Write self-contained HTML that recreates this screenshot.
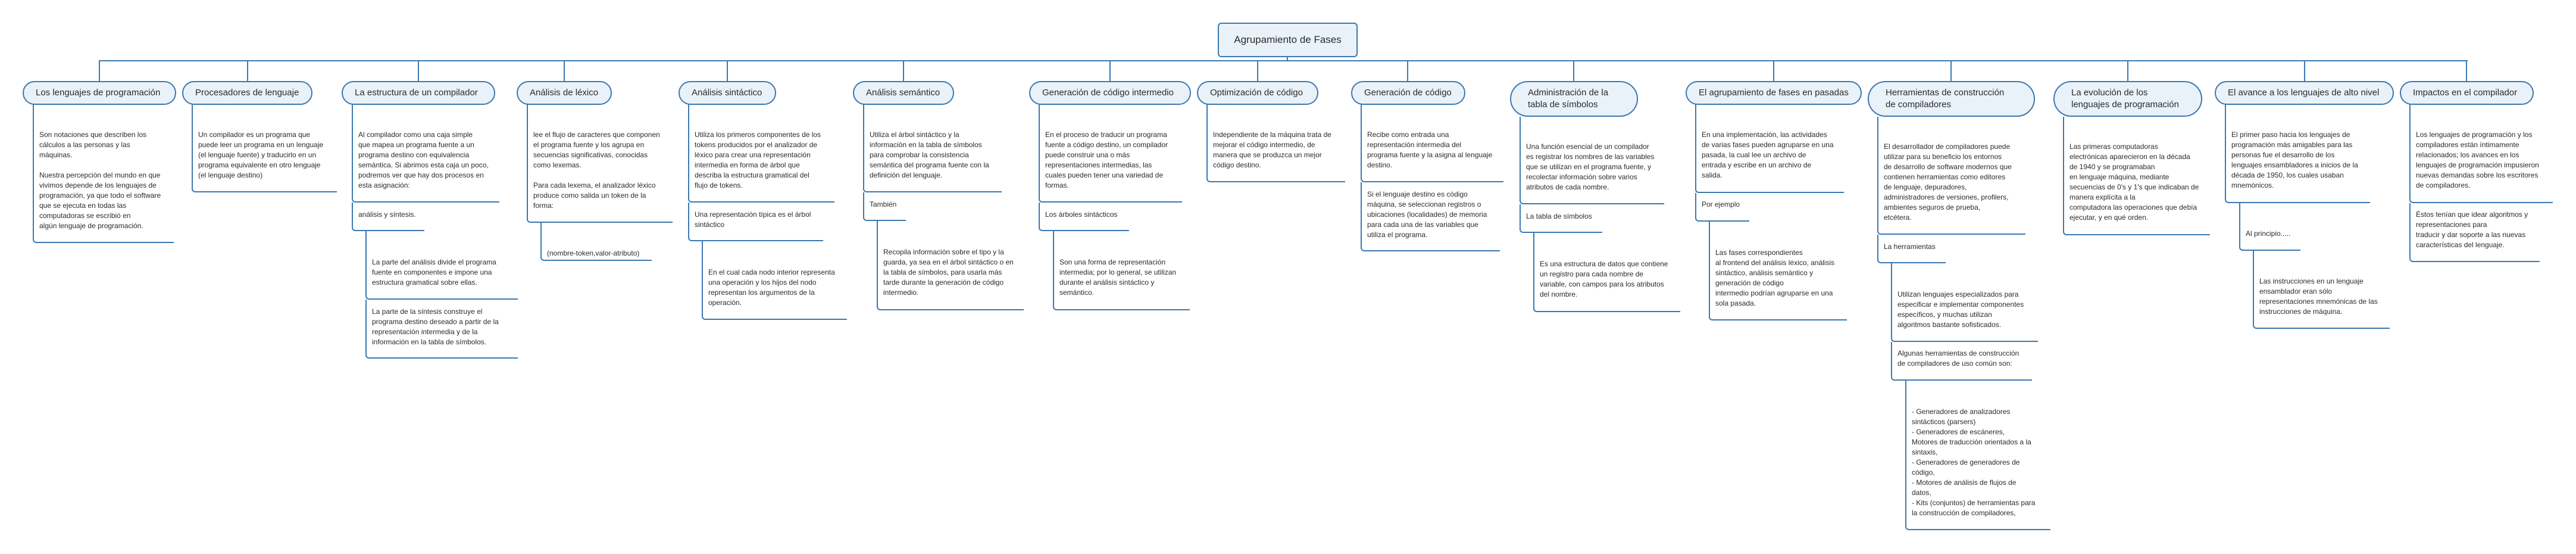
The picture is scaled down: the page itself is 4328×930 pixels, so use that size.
<!DOCTYPE html>
<html><head><meta charset="utf-8"><style>
*{margin:0;padding:0;box-sizing:border-box}
body{width:4328px;height:930px;background:#fff;position:relative;overflow:hidden;font-family:"Liberation Sans",sans-serif;color:#2a2a2a}
.l{position:absolute;background:#3b78b0}
.t{position:absolute;background:#eaf2f9;border:2px solid #3b78b0;border-radius:22px;font-size:15px;color:#2a2a2a;display:flex;align-items:center;padding-left:20px;white-space:nowrap;line-height:20px}
.t2{padding-left:28px}
.b{position:absolute;border-left:2px solid #3b78b0;border-bottom:2px solid #3b78b0;border-bottom-left-radius:6px}
.x{position:absolute;left:9px;font-size:12px;line-height:17px;white-space:nowrap}
.root{position:absolute;left:2046px;top:38px;width:235px;height:58px;background:#eaf2f9;border:2px solid #3b78b0;border-radius:6px;font-size:17px;display:flex;align-items:center;justify-content:center}
</style></head><body>
<div class="root">Agrupamiento de Fases</div>
<div class="l" style="left:2162px;top:96px;width:2px;height:6px"></div>
<div class="l" style="left:166px;top:101px;width:3980px;height:2px"></div>
<div class="l" style="left:166px;top:101px;width:2px;height:35px"></div>
<div class="l" style="left:415px;top:101px;width:2px;height:35px"></div>
<div class="l" style="left:702px;top:101px;width:2px;height:35px"></div>
<div class="l" style="left:947px;top:101px;width:2px;height:35px"></div>
<div class="l" style="left:1221px;top:101px;width:2px;height:35px"></div>
<div class="l" style="left:1517px;top:101px;width:2px;height:35px"></div>
<div class="l" style="left:1864px;top:101px;width:2px;height:35px"></div>
<div class="l" style="left:2112px;top:101px;width:2px;height:35px"></div>
<div class="l" style="left:2364px;top:101px;width:2px;height:35px"></div>
<div class="l" style="left:2643px;top:101px;width:2px;height:35px"></div>
<div class="l" style="left:2979px;top:101px;width:2px;height:35px"></div>
<div class="l" style="left:3277px;top:101px;width:2px;height:35px"></div>
<div class="l" style="left:3574px;top:101px;width:2px;height:35px"></div>
<div class="l" style="left:3871px;top:101px;width:2px;height:35px"></div>
<div class="l" style="left:4143px;top:101px;width:2px;height:35px"></div>
<div class="t" style="left:38px;top:136px;width:258px;height:40px">Los lenguajes de programación</div>
<div class="t" style="left:306px;top:136px;width:219px;height:40px">Procesadores de lenguaje</div>
<div class="t" style="left:574px;top:136px;width:258px;height:40px">La estructura de un compilador</div>
<div class="t" style="left:868px;top:136px;width:160px;height:40px">Análisis de léxico</div>
<div class="t" style="left:1140px;top:136px;width:164px;height:40px">Análisis sintáctico</div>
<div class="t" style="left:1433px;top:136px;width:170px;height:40px">Análisis semántico</div>
<div class="t" style="left:1729px;top:136px;width:272px;height:40px">Generación de código intermedio</div>
<div class="t" style="left:2011px;top:136px;width:204px;height:40px">Optimización de código</div>
<div class="t" style="left:2270px;top:136px;width:192px;height:40px">Generación de código</div>
<div class="t t2" style="left:2537px;top:136px;width:215px;height:60px;border-radius:30px">Administración de la<br>tabla de símbolos</div>
<div class="t" style="left:2832px;top:136px;width:296px;height:40px">El agrupamiento de fases en pasadas</div>
<div class="t t2" style="left:3138px;top:136px;width:281px;height:60px;border-radius:30px">Herramientas de construcción<br>de compiladores</div>
<div class="t t2" style="left:3450px;top:136px;width:250px;height:60px;border-radius:30px">La evolución de los<br>lenguajes de programación</div>
<div class="t" style="left:3721px;top:136px;width:301px;height:40px">El avance a los lenguajes de alto nivel</div>
<div class="t" style="left:4032px;top:136px;width:225px;height:40px">Impactos en el compilador</div>
<div class="b" style="left:55px;top:175px;width:237px;height:233px"><div class="x" style="top:43px">Son notaciones que describen los<br>cálculos a las personas y las<br>máquinas.<br><br>Nuestra percepción del mundo en que<br>vivimos depende de los lenguajes de<br>programación, ya que todo el software<br>que se ejecuta en todas las<br>computadoras se escribió en<br>algún lenguaje de programación.</div></div>
<div class="b" style="left:322px;top:175px;width:244px;height:148px"><div class="x" style="top:43px">Un compilador es un programa que<br>puede leer un programa en un lenguaje<br>(el lenguaje fuente) y traducirlo en un<br>programa equivalente en otro lenguaje<br>(el lenguaje destino)</div></div>
<div class="b" style="left:591px;top:175px;width:248px;height:165px"><div class="x" style="top:43px">Al compilador como una caja simple<br>que mapea un programa fuente a un<br>programa destino con equivalencia<br>semántica. Si abrimos esta caja un poco,<br>podremos ver que hay dos procesos en<br>esta asignación:</div></div>
<div class="b" style="left:591px;top:340px;width:122px;height:48px"><div class="x" style="top:12px">análisis y síntesis.</div></div>
<div class="b" style="left:614px;top:388px;width:256px;height:115px"><div class="x" style="top:44px">La parte del análisis divide el programa<br>fuente en componentes e impone una<br>estructura gramatical sobre ellas.</div></div>
<div class="b" style="left:614px;top:503px;width:256px;height:99px"><div class="x" style="top:12px">La parte de la síntesis construye el<br>programa destino deseado a partir de la<br>representación intermedia y de la<br>información en la tabla de símbolos.</div></div>
<div class="b" style="left:885px;top:175px;width:245px;height:199px"><div class="x" style="top:43px">lee el flujo de caracteres que componen<br>el programa fuente y los agrupa en<br>secuencias significativas, conocidas<br>como lexemas.<br><br>Para cada lexema, el analizador léxico<br>produce como salida un token de la<br>forma:</div></div>
<div class="b" style="left:908px;top:374px;width:187px;height:64px"><div class="x" style="top:43px">(nombre-token,valor-atributo)</div></div>
<div class="b" style="left:1156px;top:175px;width:246px;height:165px"><div class="x" style="top:43px">Utiliza los primeros componentes de los<br>tokens producidos por el analizador de<br>léxico para crear una representación<br>intermedia en forma de árbol que<br>describa la estructura gramatical del<br>flujo de tokens.</div></div>
<div class="b" style="left:1156px;top:340px;width:227px;height:65px"><div class="x" style="top:12px">Una representación típica es el árbol<br>sintáctico</div></div>
<div class="b" style="left:1179px;top:405px;width:244px;height:132px"><div class="x" style="top:44px">En el cual cada nodo interior representa<br>una operación y los hijos del nodo<br>representan los argumentos de la<br>operación.</div></div>
<div class="b" style="left:1450px;top:175px;width:233px;height:148px"><div class="x" style="top:43px">Utiliza el árbol sintáctico y la<br>información en la tabla de símbolos<br>para comprobar la consistencia<br>semántica del programa fuente con la<br>definición del lenguaje.</div></div>
<div class="b" style="left:1450px;top:323px;width:72px;height:48px"><div class="x" style="top:12px">También</div></div>
<div class="b" style="left:1473px;top:371px;width:247px;height:150px"><div class="x" style="top:44px">Recopila información sobre el tipo y la<br>guarda, ya sea en el árbol sintáctico o en<br>la tabla de símbolos, para usarla más<br>tarde durante la generación de código<br>intermedio.</div></div>
<div class="b" style="left:1745px;top:175px;width:241px;height:165px"><div class="x" style="top:43px">En el proceso de traducir un programa<br>fuente a código destino, un compilador<br>puede construir una o más<br>representaciones intermedias, las<br>cuales pueden tener una variedad de<br>formas.</div></div>
<div class="b" style="left:1745px;top:340px;width:152px;height:48px"><div class="x" style="top:12px">Los árboles sintácticos</div></div>
<div class="b" style="left:1769px;top:388px;width:230px;height:133px"><div class="x" style="top:44px">Son una forma de representación<br>intermedia; por lo general, se utilizan<br>durante el análisis sintáctico y<br>semántico.</div></div>
<div class="b" style="left:2027px;top:175px;width:233px;height:131px"><div class="x" style="top:43px">Independiente de la máquina trata de<br>mejorar el código intermedio, de<br>manera que se produzca un mejor<br>código destino.</div></div>
<div class="b" style="left:2286px;top:175px;width:240px;height:131px"><div class="x" style="top:43px">Recibe como entrada una<br>representación intermedia del<br>programa fuente y la asigna al lenguaje<br>destino.</div></div>
<div class="b" style="left:2286px;top:306px;width:234px;height:116px"><div class="x" style="top:12px">Si el lenguaje destino es código<br>máquina, se seleccionan registros o<br>ubicaciones (localidades) de memoria<br>para cada una de las variables que<br>utiliza el programa.</div></div>
<div class="b" style="left:2553px;top:196px;width:243px;height:147px"><div class="x" style="top:42px">Una función esencial de un compilador<br>es registrar los nombres de las variables<br>que se utilizan en el programa fuente, y<br>recolectar información sobre varios<br>atributos de cada nombre.</div></div>
<div class="b" style="left:2553px;top:343px;width:139px;height:48px"><div class="x" style="top:12px">La tabla de símbolos</div></div>
<div class="b" style="left:2576px;top:391px;width:247px;height:133px"><div class="x" style="top:44px">Es una estructura de datos que contiene<br>un registro para cada nombre de<br>variable, con campos para los atributos<br>del nombre.</div></div>
<div class="b" style="left:2848px;top:175px;width:250px;height:149px"><div class="x" style="top:43px">En una implementación, las actividades<br>de varias fases pueden agruparse en una<br>pasada, la cual lee un archivo de<br>entrada y escribe en un archivo de<br>salida.</div></div>
<div class="b" style="left:2848px;top:324px;width:91px;height:48px"><div class="x" style="top:11px">Por ejemplo</div></div>
<div class="b" style="left:2871px;top:372px;width:232px;height:166px"><div class="x" style="top:44px">Las fases correspondientes<br>al frontend del análisis léxico, análisis<br>sintáctico, análisis semántico y<br>generación de código<br>intermedio podrían agruparse en una<br>sola pasada.</div></div>
<div class="b" style="left:3154px;top:196px;width:249px;height:198px"><div class="x" style="top:42px">El desarrollador de compiladores puede<br>utilizar para su beneficio los entornos<br>de desarrollo de software modernos que<br>contienen herramientas como editores<br>de lenguaje, depuradores,<br>administradores de versiones, profilers,<br>ambientes seguros de prueba,<br>etcétera.</div></div>
<div class="b" style="left:3154px;top:394px;width:115px;height:48px"><div class="x" style="top:12px">La herramientas</div></div>
<div class="b" style="left:3177px;top:442px;width:247px;height:132px"><div class="x" style="top:44px">Utilizan lenguajes especializados para<br>especificar e implementar componentes<br>específicos, y muchas utilizan<br>algoritmos bastante sofisticados.</div></div>
<div class="b" style="left:3177px;top:574px;width:237px;height:65px"><div class="x" style="top:11px">Algunas herramientas de construcción<br>de compiladores de uso común son:</div></div>
<div class="b" style="left:3201px;top:639px;width:244px;height:251px"><div class="x" style="top:44px">- Generadores de analizadores<br>sintácticos (parsers)<br>- Generadores de escáneres,<br>Motores de traducción orientados a la<br>sintaxis,<br>- Generadores de generadores de<br>código,<br>- Motores de análisis de flujos de<br>datos,<br>- Kits (conjuntos) de herramientas para<br>la construcción de compiladores,</div></div>
<div class="b" style="left:3466px;top:196px;width:247px;height:199px"><div class="x" style="top:42px">Las primeras computadoras<br>electrónicas aparecieron en la década<br>de 1940 y se programaban<br>en lenguaje máquina, mediante<br>secuencias de 0's y 1's que indicaban de<br>manera explícita a la<br>computadora las operaciones que debía<br>ejecutar, y en qué orden.</div></div>
<div class="b" style="left:3738px;top:175px;width:244px;height:166px"><div class="x" style="top:43px">El primer paso hacia los lenguajes de<br>programación más amigables para las<br>personas fue el desarrollo de los<br>lenguajes ensambladores a inicios de la<br>década de 1950, los cuales usaban<br>mnemónicos.</div></div>
<div class="b" style="left:3762px;top:341px;width:103px;height:80px"><div class="x" style="top:43px">Al principio.....</div></div>
<div class="b" style="left:3785px;top:421px;width:230px;height:131px"><div class="x" style="top:43px">Las instrucciones en un lenguaje<br>ensamblador eran sólo<br>representaciones mnemónicas de las<br>instrucciones de máquina.</div></div>
<div class="b" style="left:4048px;top:175px;width:241px;height:166px"><div class="x" style="top:43px">Los lenguajes de programación y los<br>compiladores están íntimamente<br>relacionados; los avances en los<br>lenguajes de programación impusieron<br>nuevas demandas sobre los escritores<br>de compiladores.</div></div>
<div class="b" style="left:4048px;top:341px;width:219px;height:99px"><div class="x" style="top:11px">Éstos tenían que idear algoritmos y<br>representaciones para<br>traducir y dar soporte a las nuevas<br>características del lenguaje.</div></div>
</body></html>
